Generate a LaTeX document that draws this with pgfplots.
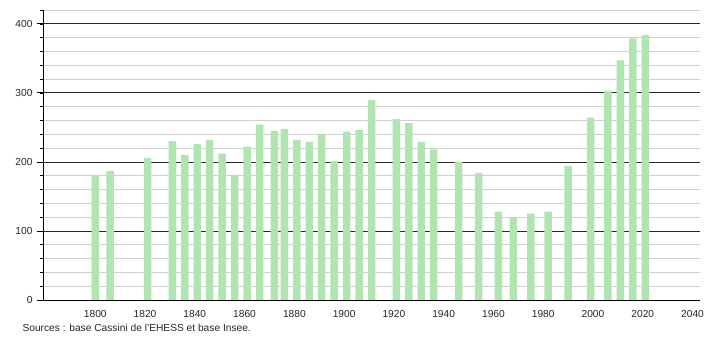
\documentclass[border=0pt]{standalone}
\usepackage{pgfplots}
\pgfplotsset{compat=1.18}
\usepackage{fontspec}
\setmainfont{Liberation Sans}
\definecolor{barg}{RGB}{176,228,176}
\definecolor{mingrid}{RGB}{208,208,208}
\definecolor{majgrid}{RGB}{40,40,40}
\begin{document}
\begin{tikzpicture}
\begin{axis}[
  at={(0,0)}, anchor=south west,
  scale only axis,
  width=657pt, height=290pt,
  xmin=1779, xmax=2043,
  ymin=0, ymax=420,
  axis lines*=left,
  axis line style={black, line width=0.8pt},
  xtick={1800,1820,...,2040},
  x tick style={draw=none},
  ytick={0,100,...,400},
  minor ytick={20,40,...,420},
  tick align=outside,
  major tick length=6pt,
  minor tick length=3pt,
  y tick style={black, line width=0.8pt},
  minor y tick style={black, line width=0.6pt},
  ymajorgrids, yminorgrids,
  major grid style={majgrid, line width=0.8pt},
  minor grid style={mingrid, line width=0.8pt},
  /pgf/number format/1000 sep={},
  /pgf/number format/assume math mode=true,
  tick label style={font=\fontsize{10.2}{12}\selectfont, text=black!85},
  xticklabel style={yshift=-1pt},
  yticklabel style={xshift=-1pt},
  ybar, bar width=7.5pt,
]
\addplot[fill=barg, draw=none] coordinates {
(1800,180) (1806,187) (1821,206) (1831,230) (1836,210) (1841,226)
(1846,232) (1851,212) (1856,180) (1861,222) (1866,254) (1872,245)
(1876,248) (1881,232) (1886,229) (1891,241) (1896,201) (1901,244)
(1906,246) (1911,290) (1921,262) (1926,256) (1931,229) (1936,218)
(1946,200) (1954,184) (1962,128) (1968,120) (1975,125) (1982,128)
(1990,194) (1999,264) (2006,303) (2011,347) (2016,379) (2021,384)
};
\end{axis}
\node[anchor=west, text=black!85, font=\fontsize{10.2}{12}\selectfont] at (-24pt,-28pt) {Sources : base Cassini de l'EHESS et base Insee.};
\pgfresetboundingbox
\path[use as bounding box] (-43pt,-40pt) rectangle (667pt,300pt);
\end{tikzpicture}
\end{document}
